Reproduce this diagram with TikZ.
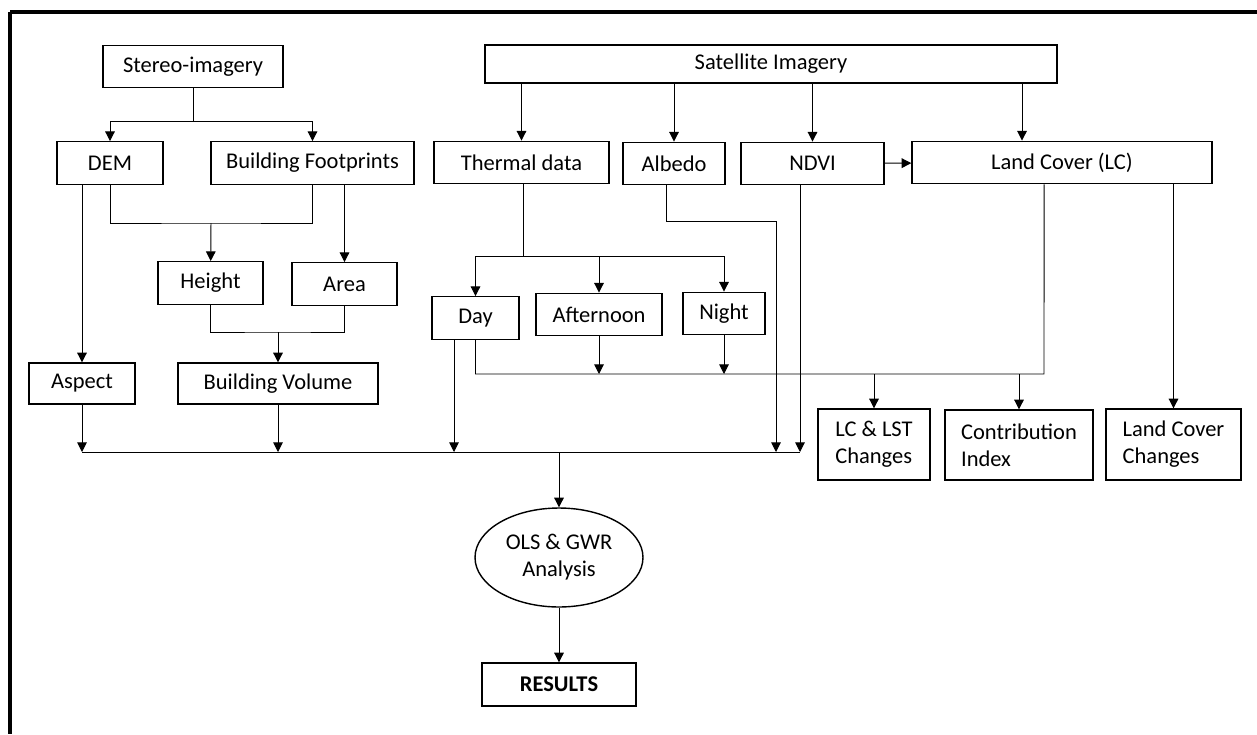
\documentclass[tikz,border=0pt]{standalone}
\usepackage{fontspec}
\setmainfont{Carlito}
\usetikzlibrary{arrows.meta,shapes.geometric}

\tikzset{
  box/.style={draw,line width=0.8pt,inner sep=1pt,minimum height=0.85cm,font=\fontsize{12.8pt}{15.4pt}\selectfont,align=left},
  arr/.style={-{Triangle[length=5.5pt,width=5.5pt]}},
  link/.style={line width=0.55pt}
}

\begin{document}
\begin{tikzpicture}[x=0.02cm,y=-0.02cm,link]
  \useasboundingbox (0,0) rectangle (1257,734);
  % Marco
  \draw[line width=1.8pt] (10,12) -- (1257,12);
  \draw[line width=1.8pt] (10,12) -- (10,734);

  % Cajas
  \node[box,minimum width=3.6cm] (stereo) at (193,66.5) {Stereo-imagery};
  \node[box,minimum width=2.12cm] (dem) at (110,163) {DEM};
  \node[box,minimum width=4.06cm] (foot) at (312.5,163) {Building Footprints};
  \node[box,minimum width=11.44cm,minimum height=0.76cm] (sat) at (771,64) {Satellite Imagery};
  \node[box,minimum width=3.5cm] (thermal) at (521.5,162.5) {Thermal data};
  \node[box,minimum width=2.04cm] (albedo) at (674,163.5) {Albedo};
  \node[box,minimum width=2.86cm] (ndvi) at (812.5,163.5) {NDVI};
  \node[box,minimum width=6cm] (lc) at (1062,162.5) {Land Cover (LC)};
  \node[box,minimum width=2.1cm] (height) at (210.5,283) {Height};
  \node[box,minimum width=2.1cm] (area) at (344.5,284) {Area};
  \node[box,minimum width=2.12cm,minimum height=0.82cm] (aspect) at (82,383.5) {Aspect};
  \node[box,minimum width=4cm,minimum height=0.82cm] (volume) at (278,383.5) {Building Volume};
  \node[box,minimum width=1.74cm] (day) at (475.5,318) {Day};
  \node[box,minimum width=2.52cm] (after) at (599,314.5) {Afternoon};
  \node[box,minimum width=1.64cm] (night) at (724,313.5) {Night};
  \node[box,minimum width=2.24cm,minimum height=1.42cm] (lclst) at (874,444.5) {LC \& LST\\Changes};
  \node[box,minimum width=2.96cm,minimum height=1.4cm] (contrib) at (1019,445) {Contribution\\Index};
  \node[box,minimum width=2.7cm,minimum height=1.42cm] (lcchange) at (1173.5,444.5) {Land Cover\\Changes};
  \node[box,ellipse,align=center,inner sep=0pt,minimum width=3.36cm,minimum height=1.98cm] (ols) at (559,557.5) {OLS \& GWR\\Analysis};
  \node[box,minimum width=3.08cm,minimum height=0.86cm,font=\fontsize{12.8pt}{15.4pt}\selectfont\bfseries] (results) at (559,684.5) {RESULTS};

  % Puntos de union
  \coordinate (sj) at (193,121);
  \coordinate (hj) at (211,223);
  \coordinate (vj) at (278,332);
  \coordinate (tj) at (523,256);
  \coordinate (albj) at (776,221);
  \coordinate (cj) at (1044,374);
  \coordinate (busL) at (82,452);
  \coordinate (busR) at (800,452);
  \coordinate (dayb) at (454,452);
  \coordinate (albb) at (776,452);
  \coordinate (lcin) at ([xshift=-0.8cm]lc.north);
  \coordinate (lcout) at ([xshift=-0.36cm]lc.south);
  \coordinate (albout) at ([xshift=-0.16cm]albedo.south);

  % Imagenes estereo
  \draw (stereo) -- (sj);
  \foreach \to in {dem, foot}
    \draw[arr] (sj) -| (\to);
  \draw[arr] (dem.south -| aspect) -- (aspect);
  \draw (dem) |- (hj) -| (foot);
  \draw[arr] (hj) -- (height);
  \draw[arr] (foot.south -| area) -- (area);
  \draw (height) |- (vj) -| (area);
  \draw[arr] (vj) -- (volume);

  % Imagenes de satelite
  \foreach \to in {thermal, albedo, ndvi}
    \draw[arr] (sat.south -| \to) -- (\to);
  \draw[arr] (sat.south -| lcin) -- (lcin);
  \draw[arr] (ndvi) -- (lc);
  \draw (thermal.south -| tj) -- (tj);
  \foreach \to in {day, night}
    \draw[arr] (tj) -| (\to);
  \draw[arr] (tj -| after) -- (after);

  % Cambios
  \draw (day) |- (cj) -- (lcout);
  \foreach \from in {after, night}
    \draw[arr] (\from) -- (\from |- cj);
  \foreach \to in {lclst, contrib}
    \draw[arr] (cj -| \to) -- (\to);
  \draw[arr] (lc.south -| lcchange) -- (lcchange);

  % Barra de variables
  \draw (busL) -- (busR);
  \foreach \from in {aspect, volume}
    \draw[arr] (\from) -- (\from |- busL);
  \draw[arr] (day.south -| dayb) -- (dayb);
  \draw[arr] (albout) |- (albj) -- (albb);
  \draw[arr] (ndvi.south -| busR) -- (busR);

  % Analisis
  \draw[arr] (busL -| ols) -- (ols);
  \draw[arr] (ols) -- (results);
\end{tikzpicture}
\end{document}
